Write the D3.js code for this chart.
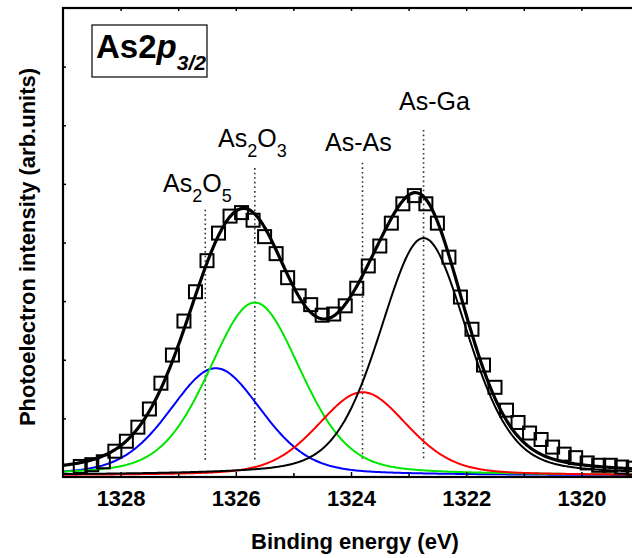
<!DOCTYPE html>
<html>
<head>
<meta charset="utf-8">
<script src="https://cdn.jsdelivr.net/npm/d3@7"></script>
<style>
  html, body { margin: 0; padding: 0; background: #fff; }
  svg { display: block; font-family: "Liberation Sans", Arial, Helvetica, sans-serif; }
</style>
</head>
<body>
<svg id="chart" width="632" height="558"></svg>
<script>
// Measured As 2p3/2 spectrum (binding energy in eV, intensity in arb. units)
const energies = [
  1328.7, 1328.5, 1328.3, 1328.1, 1327.9, 1327.7, 1327.5, 1327.3, 1327.1,
  1326.9, 1326.7, 1326.5, 1326.3, 1326.1, 1325.9, 1325.7, 1325.5, 1325.3,
  1325.1, 1324.9, 1324.7, 1324.5, 1324.3, 1324.1, 1323.9, 1323.7, 1323.5,
  1323.3, 1323.1, 1322.9, 1322.7, 1322.5, 1322.3, 1322.1, 1321.9, 1321.7,
  1321.5, 1321.3, 1321.1, 1320.9, 1320.7, 1320.5, 1320.3, 1320.1, 1319.9,
  1319.7, 1319.5, 1319.3, 1319.1
];
const intensities = [
  0.18, 0.21, 0.26, 0.44, 0.61, 0.85, 1.16, 1.60, 2.08,
  2.66, 3.16, 3.69, 4.16, 4.45, 4.51, 4.38, 4.10, 3.81,
  3.40, 3.09, 2.94, 2.76, 2.78, 2.92, 3.22, 3.60, 3.94,
  4.33, 4.66, 4.80, 4.66, 4.33, 3.75, 3.07, 2.52, 1.91,
  1.53, 1.14, 0.93, 0.75, 0.64, 0.51, 0.39, 0.33, 0.24,
  0.20, 0.20, 0.17, 0.15
];

// Fitted components (pseudo-Voigt line shapes)
const peakNames   = ["As2O5", "As2O3", "As-As", "As-Ga"];
const peakCenters = [1326.35, 1325.67, 1323.80, 1322.74];
const peakHeights = [1.83, 2.95, 1.42, 4.05];
const peakFwhm    = [1.90, 1.90, 1.85, 1.80];
const lorentzFraction = 0.3;
const background = 0.026;

// Chemical-state reference positions and their guide extents
const refEnergies = [1326.53, 1325.67, 1323.80, 1322.74];
const guideTops   = [4.56, 5.27, 5.36, 5.92];
const guideBottom = 0.29;

// Axis ticks
const xMajorTicks = [1328, 1326, 1324, 1322, 1320];
const xMinorTicks = [1327, 1325, 1323, 1321];
const yTicks = [1, 2, 3, 4, 5, 6, 7];

const peakColors = ["#0000ff", "#00e600", "#ff0000", "#000000"];

const svg = d3.select("#chart");
const plotL = 63, plotR = 639, plotT = 8, plotB = 477;

const x = d3.scaleLinear().domain([1329, 1319]).range([plotL, plotR]);
const y = d3.scaleLinear().domain([0, 8]).range([plotB, plotT]);

function pseudoVoigt(e, c, h, w) {
  const d = (e - c) / (w / 2);
  const lor = 1 / (1 + d * d);
  const gau = Math.exp(-Math.LN2 * d * d);
  return h * (lorentzFraction * lor + (1 - lorentzFraction) * gau);
}

// evaluation grid for the smooth fit curves
const grid = d3.range(1329, 1318.99, -0.02);

svg.append("defs").append("clipPath").attr("id", "plotClip")
  .append("rect").attr("x", plotL).attr("y", plotT).attr("width", plotR - plotL).attr("height", plotB - plotT);

const plot = svg.append("g").attr("clip-path", "url(#plotClip)");

const line = d3.line().x(d => x(d[0])).y(d => y(d[1]));

// dotted guide lines
plot.selectAll("line.guide").data(refEnergies).join("line")
  .attr("class", "guide")
  .attr("x1", d => x(d)).attr("x2", d => x(d))
  .attr("y1", (d, i) => y(guideTops[i])).attr("y2", y(guideBottom))
  .attr("stroke", "#333").attr("stroke-width", 1.6).attr("stroke-dasharray", "1.6,3");

// component curves
peakNames.forEach((name, i) => {
  const pts = grid.map(e => [e, background + pseudoVoigt(e, peakCenters[i], peakHeights[i], peakFwhm[i])]);
  plot.append("path").datum(pts)
    .attr("d", line).attr("fill", "none")
    .attr("stroke", peakColors[i]).attr("stroke-width", 2);
});

// envelope (sum of components)
const envelope = grid.map(e => [e, background + d3.sum(peakNames, (n, i) => pseudoVoigt(e, peakCenters[i], peakHeights[i], peakFwhm[i]))]);
plot.append("path").datum(envelope)
  .attr("d", line).attr("fill", "none")
  .attr("stroke", "#000").attr("stroke-width", 3.2);

// measured points
const sq = 13;
plot.selectAll("rect.pt").data(energies).join("rect")
  .attr("class", "pt")
  .attr("x", d => x(d) - sq / 2)
  .attr("y", (d, i) => y(intensities[i]) - sq / 2)
  .attr("width", sq).attr("height", sq)
  .attr("fill", "none").attr("stroke", "#000").attr("stroke-width", 2);

// frame
svg.append("rect").attr("x", plotL).attr("y", plotT).attr("width", plotR - plotL).attr("height", plotB - plotT)
  .attr("fill", "none").attr("stroke", "#000").attr("stroke-width", 2.2);

// bottom axis
const xAxis = d3.axisBottom(x).tickValues(xMajorTicks).tickSize(-5).tickFormat(d3.format("d"));
const gx = svg.append("g").attr("transform", `translate(0,${plotB})`).call(xAxis);
gx.select(".domain").remove();
gx.selectAll(".tick line").attr("stroke", "#000").attr("stroke-width", 1.5);
gx.selectAll(".tick text").attr("y", 29).attr("dy", 0)
  .attr("font-size", 22).attr("font-weight", "bold").attr("fill", "#000")
  .attr("font-family", "Liberation Sans, Arial, sans-serif");
const gxm = svg.append("g").attr("transform", `translate(0,${plotB})`)
  .call(d3.axisBottom(x).tickValues(xMinorTicks).tickSize(-4).tickFormat(""));
gxm.select(".domain").remove();
gxm.selectAll(".tick line").attr("stroke", "#000").attr("stroke-width", 1.5);

// top axis ticks
const gt = svg.append("g").attr("transform", `translate(0,${plotT})`)
  .call(d3.axisTop(x).tickValues(xMajorTicks.concat(xMinorTicks)).tickSize(-3).tickFormat(""));
gt.select(".domain").remove();
gt.selectAll(".tick line").attr("stroke", "#000").attr("stroke-width", 1.5);

// left axis ticks (no labels)
const gy = svg.append("g").attr("transform", `translate(${plotL},0)`)
  .call(d3.axisLeft(y).tickValues(yTicks).tickSize(-3).tickFormat(""));
gy.select(".domain").remove();
gy.selectAll(".tick line").attr("stroke", "#000").attr("stroke-width", 1.5);

// axis titles
svg.append("text").attr("x", 355).attr("y", 549).attr("text-anchor", "middle")
  .attr("font-size", 22).attr("font-weight", "bold").text("Binding energy (eV)");
svg.append("text").attr("transform", "translate(35,247) rotate(-90)").attr("text-anchor", "middle")
  .attr("font-size", 22).attr("font-weight", "bold").text("Photoelectron intensity (arb.units)");

// component labels with subscripts
function chemLabel(px, py, parts) {
  const t = svg.append("text").attr("x", px).attr("y", py).attr("font-size", 25).attr("fill", "#000");
  let shifted = false;
  parts.forEach(p => {
    if (p.sub) {
      t.append("tspan").attr("font-size", 18).attr("dy", shifted ? 0 : 10).text(p.s);
      shifted = true;
    } else {
      t.append("tspan").attr("dy", shifted ? -10 : 0).text(p.s);
      shifted = false;
    }
  });
  return t;
}
chemLabel(163, 192, [{s: "As"}, {s: "2", sub: true}, {s: "O"}, {s: "5", sub: true}]);
chemLabel(218, 147, [{s: "As"}, {s: "2", sub: true}, {s: "O"}, {s: "3", sub: true}]);
chemLabel(325, 151, [{s: "As-As"}]);
chemLabel(399, 110, [{s: "As-Ga"}]);

// core-level title box
svg.append("rect").attr("x", 92).attr("y", 25).attr("width", 115).attr("height", 52)
  .attr("fill", "#fff").attr("stroke", "#000").attr("stroke-width", 1.2);
const title = svg.append("text").attr("x", 96).attr("y", 58).attr("font-size", 33).attr("font-weight", "bold");
title.append("tspan").text("As2");
title.append("tspan").attr("font-style", "italic").text("p");
title.append("tspan").attr("font-style", "italic").attr("font-size", 21).attr("dy", 12).text("3/2");
</script>
</body>
</html>
